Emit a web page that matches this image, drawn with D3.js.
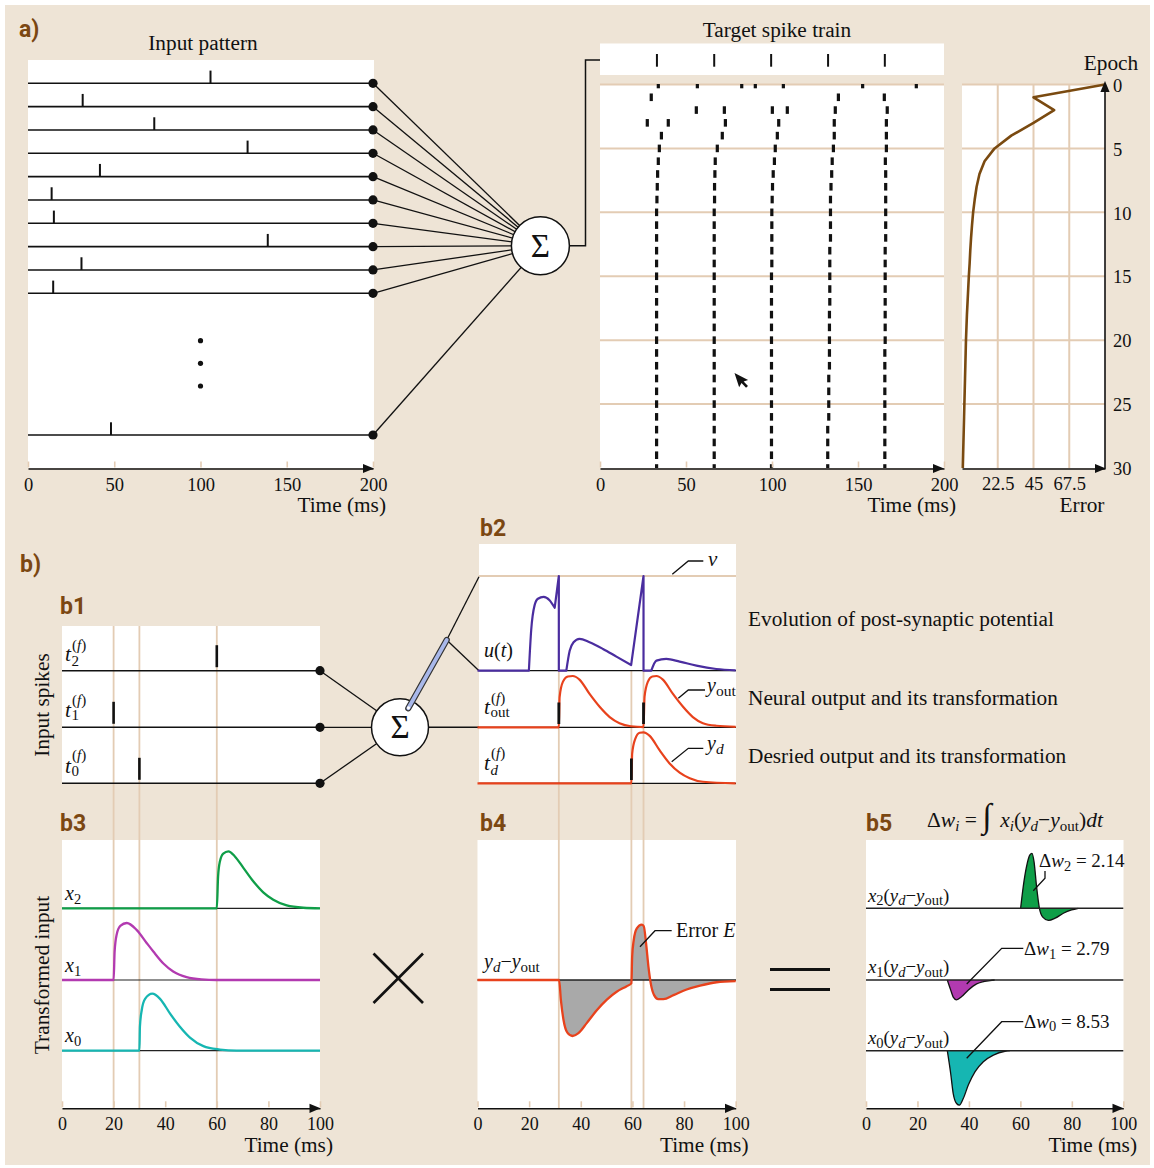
<!DOCTYPE html>
<html><head><meta charset="utf-8">
<script src="https://cdn.jsdelivr.net/npm/d3@7"></script>
<style>
body{margin:0;background:#fff}
svg{display:block}
text{font-family:"Liberation Serif","DejaVu Serif",serif;fill:#111}
</style>
</head><body>
<svg id="c" width="1154" height="1168"></svg>
<script>
// ---------------- DATA ----------------
const timeTicksA = [0, 50, 100, 150, 200];
const inputSpikeTimes = [105.8, 31.7, 73.2, 127.3, 41.7, 13.7, 15.0, 139.0, 31.0, 14.6];
const lastInputSpike = 48.1;
const targetSpikes = [33.1, 66.4, 99.5, 132.6, 165.6];
const epochTicks = [0, 5, 10, 15, 20, 25, 30];
const errorTicks = [22.5, 45, 67.5];
const rasterSpikes = [
  [33.9, 56.6, 82.4, 90.3, 106.6, 152.7, 183.9],
  [29.8, 138.6, 165.3],
  [56.0, 72.3, 100.2, 108.9, 136.8, 167.0],
  [27.5, 39.7, 72.9, 103.9, 136.2, 166.5],
  [35.7, 71.1, 103.1, 136.2, 166.5],
  [34.5, 68.2, 101.9, 135.7, 166.5],
  [33.9, 67.0, 101.4, 135.0, 165.9],
  [33.5, 66.8, 100.7, 134.7, 166.1],
  [33.3, 66.6, 100.3, 134.3, 166.1],
  [33.1, 66.6, 100.1, 134.0, 166.1],
  [32.9, 66.4, 99.9, 134.0, 166.1],
  [32.9, 66.4, 99.9, 134.0, 166.1],
  [32.9, 66.4, 99.9, 134.0, 166.1],
  [32.9, 66.4, 99.9, 133.6, 165.8],
  [32.9, 66.4, 99.9, 133.6, 165.8],
  [32.9, 66.4, 99.7, 133.6, 165.8],
  [32.9, 66.4, 99.7, 133.6, 165.8],
  [32.9, 66.4, 99.7, 133.6, 165.8],
  [32.9, 66.4, 99.7, 133.4, 165.8],
  [32.9, 66.4, 99.7, 133.4, 165.8],
  [32.9, 66.4, 99.7, 133.4, 165.8],
  [32.9, 66.4, 99.7, 133.4, 165.6],
  [32.9, 66.4, 99.7, 133.4, 165.6],
  [32.9, 66.4, 99.7, 133.0, 165.6],
  [32.9, 66.4, 99.7, 133.0, 165.6],
  [32.9, 66.4, 99.7, 133.0, 165.6],
  [32.9, 66.4, 99.7, 133.0, 165.6],
  [32.9, 66.4, 99.7, 132.4, 165.6],
  [32.9, 66.4, 99.7, 132.4, 165.6],
  [32.9, 66.4, 99.7, 132.4, 165.6],
  [32.9, 66.4, 99.7, 132.4, 165.6]
];
const errorValues = [90, 45, 58, 45, 31, 20.5, 14.2, 11, 9.2, 8, 7, 6.3, 5.7, 5.2, 4.8, 4.3, 3.9, 3.5, 3.1, 2.8, 2.5, 2.3, 2.1, 1.9, 1.7, 1.5, 1.3, 1.1, 0.9, 0.7, 0.5];

const timeTicksB = [0, 20, 40, 60, 80, 100];
const b1Spikes = [30, 20, 60];          // row 0 (t0), row 1 (t1), row 2 (t2)
const outSpikes = [31.5, 64.3];
const desiredSpikes = [59.6];
const uSegments = [
  [[0, 0], [19.9, 0]],
  [[19.9, 0], [20.8, 0.43], [22.1, 0.69], [23.4, 0.76], [25.6, 0.78], [27.9, 0.745], [29.9, 0.665]],
  [[29.9, 0.665], [31.5, 1.0]],
  [[31.5, 0], [34.4, 0]],
  [[34.4, 0], [35.7, 0.21], [37.2, 0.30], [39.5, 0.337], [43.4, 0.30], [48.6, 0.23], [53.8, 0.149], [59.5, 0.06]],
  [[59.5, 0.06], [64.3, 1.0]],
  [[64.3, 0], [67.3, 0]],
  [[67.3, 0], [69.3, 0.106], [73.1, 0.124], [78.3, 0.096], [84.8, 0.053], [92.5, 0.018], [100, 0.004]]
];
const yOutCurve = [[0, 0], [31.5, 0], [31.8, 0.59], [33.1, 0.89], [35, 0.99], [36.9, 1.0], [39.5, 0.93], [43.4, 0.65], [47.3, 0.40], [51.2, 0.20], [55, 0.08], [59.4, 0.02], [64.3, 0.005], [64.7, 0.6], [66, 0.89], [67.7, 0.99], [69.3, 1.0], [71.8, 0.93], [75.7, 0.65], [79.6, 0.40], [83.4, 0.20], [87.3, 0.08], [92.5, 0.03], [100, 0.01]];
const yDCurve = [[0, 0], [59.6, 0], [59.9, 0.58], [61.1, 0.87], [62.8, 0.99], [64.3, 1.0], [66.7, 0.93], [70.5, 0.65], [74.4, 0.39], [78.3, 0.21], [82.2, 0.10], [87.3, 0.03], [100, 0]];
const x2Curve = [[0, 0], [60, 0], [60.5, 0.56], [61.2, 0.82], [62.5, 0.96], [64.5, 1.0], [67, 0.91], [70.3, 0.71], [74.2, 0.47], [78, 0.28], [81.9, 0.15], [87.1, 0.05], [93.5, 0.01], [100, 0]];
const x1Curve = [[0, 0], [20, 0], [20.4, 0.5], [21.2, 0.8], [22.6, 0.95], [25.1, 1.0], [28.9, 0.88], [32.8, 0.65], [35.4, 0.50], [39.3, 0.29], [43.1, 0.15], [48.3, 0.05], [54, 0.01], [60, 0], [100, 0]];
const x0Curve = [[0, 0], [30, 0], [30.2, 0.42], [30.9, 0.71], [32.2, 0.91], [35, 1.0], [38, 0.91], [41.9, 0.65], [45.7, 0.42], [49.6, 0.23], [54.8, 0.08], [61.2, 0.02], [67.7, 0], [100, 0]];
const errCurve = [[0, 0], [31.6, 0], [32.3, -0.36], [33.3, -0.71], [34.8, -0.94], [36.8, -1.0], [39.1, -0.95], [42.3, -0.77], [46.2, -0.54], [50.1, -0.35], [53.9, -0.21], [57.8, -0.11], [59.6, -0.06], [59.9, 0.42], [60.5, 0.71], [61.7, 0.92], [63.6, 0.99], [64.4, 0.96], [65.3, 0.65], [66.2, 0.24], [67.1, -0.06], [68.4, -0.27], [70, -0.34], [72, -0.34], [75.9, -0.27], [81, -0.17], [86.2, -0.1], [92.6, -0.04], [100, -0.02]];
const prod2Curve = [[60.1, 0], [61.1, 0.39], [62.4, 0.76], [63.7, 0.97], [64.5, 1.0], [65.3, 0.85], [66.3, 0.39], [67.4, 0], [68.7, -0.16], [70.9, -0.22], [73.5, -0.18], [76.7, -0.09], [79.9, -0.03], [82.5, 0]];
const prod1Curve = [[31.6, 0], [32.9, -0.18], [33.9, -0.31], [35.2, -0.36], [37.2, -0.30], [39.8, -0.18], [43, -0.07], [48.2, -0.01], [50, 0]];
const prod0Curve = [[31.6, 0], [32.9, -0.41], [33.9, -0.78], [35.2, -0.96], [36.3, -0.99], [37.8, -0.87], [39.8, -0.62], [42.4, -0.38], [45.6, -0.2], [49.5, -0.08], [54, -0.01], [56, 0]];
const deltaW = ["2.14", "2.79", "8.53"];

// ---------------- STYLE ----------------
const BG = "#EEE4D6", TAN = "#E3CCB4", BROWN = "#7B4712";
const PURPLE = "#4A2D9F", RED = "#E8421C", GREEN = "#0F9E48", MAGENTA = "#B23AB0", TEAL = "#16B6B2", GRAY = "#A9A9A9";
const FS_TXT = 21.3, FS_TICK = 18.5;
const svg = d3.select("#c");
svg.append("rect").attr("x", 5).attr("y", 5).attr("width", 1145).attr("height", 1160).attr("fill", BG);

function line(g, x1, y1, x2, y2, stroke = "#111", w = 1.4) {
  return g.append("line").attr("x1", x1).attr("y1", y1).attr("x2", x2).attr("y2", y2).attr("stroke", stroke).attr("stroke-width", w);
}
function poly(g, pts, stroke = "#111", w = 1.3) {
  return g.append("polyline").attr("points", pts.map(p => p.join(",")).join(" ")).attr("fill", "none").attr("stroke", stroke).attr("stroke-width", w);
}
function arrow(g, x, y, dir) {
  const L = 11, h = 4.6;
  let pts;
  if (dir === "right") pts = [[x, y], [x - L, y - h], [x - L, y + h]];
  else pts = [[x, y], [x - h, y + L], [x + h, y + L]];
  g.append("polygon").attr("points", pts.map(p => p.join(",")).join(" ")).attr("fill", "#111");
}
function label(g, x, y, txt, size, anchor = "start", extra = {}) {
  const t = g.append("text").attr("x", x).attr("y", y).attr("font-size", size).attr("text-anchor", anchor).text(txt);
  for (const k in extra) t.attr(k, extra[k]);
  return t;
}
function panelLabel(x, y, txt) {
  svg.append("text").attr("x", x).attr("y", y).text(txt)
    .style("font-family", "Roboto, 'Noto Sans', sans-serif").style("font-weight", "700")
    .style("font-size", "23px").style("fill", BROWN);
}
// math text: parts [string, kind, size] kind: r roman, i italic, s roman sub, is italic sub
function mtext(g, x, y, parts, size, anchor = "start") {
  const t = g.append("text").attr("x", x).attr("y", y).attr("font-size", size).attr("text-anchor", anchor);
  let shift = 0;
  parts.forEach(([s, kind, fsz]) => {
    const sub = kind.includes("s");
    const target = sub ? size * 0.2 : 0;
    t.append("tspan").text(s)
      .attr("dy", (target - shift).toFixed(2))
      .attr("font-size", fsz || (sub ? size * 0.72 : size))
      .attr("font-style", kind.includes("i") ? "italic" : "normal");
    shift = target;
  });
  return t;
}
function tLabel(g, x, y, sub, subItalic, subDy, supDy) {
  label(g, x, y, "t", 21.5, "start", { "font-style": "italic" });
  label(g, x + 6.5, y + subDy, sub, 15, "start", { "font-style": subItalic ? "italic" : "normal" });
  mtext(g, x + 7, y + supDy, [["(", "r"], ["f", "i"], [")", "r"]], 15);
}
function styleAxisText(g, y) {
  g.attr("font-family", null).attr("font-size", null);
  g.selectAll(".tick text").attr("y", y).attr("dy", 0).attr("font-size", FS_TICK)
    .style("font-family", "'Liberation Serif', serif").attr("fill", "#111");
}
function bottomAxis(scale, y, ticks, fsz, endX) {
  const g = svg.append("g").attr("transform", `translate(0,${y})`)
    .call(d3.axisBottom(scale).tickValues(ticks).tickSize(-7).tickSizeOuter(0).tickFormat(d => String(d)));
  g.select(".domain").attr("stroke", "#111").attr("stroke-width", 1.6);
  g.selectAll(".tick line").attr("stroke", TAN).attr("stroke-width", 1.6).attr("y1", -1);
  styleAxisText(g, 22);
  g.selectAll(".tick text").attr("font-size", fsz);
  arrow(svg, endX, y, "right");
  return g;
}

// ---------------- PANEL a: input pattern ----------------
panelLabel(19, 37, "a)");
const gA = svg.append("g");
const xA = d3.scaleLinear().domain([0, 200]).range([28, 373]);
const rowY = d3.scaleLinear().domain([0, 9]).range([83.3, 293.3]);
const lastRowY = 435;
const sigA = { x: 540.4, y: 245.7, r: 29 };
gA.append("rect").attr("x", 28).attr("y", 60).attr("width", 346).attr("height", 408).attr("fill", "#fff");
label(gA, 203, 50, "Input pattern", FS_TXT, "middle");
const rowsA = inputSpikeTimes.map((t, i) => ({ t, y: rowY(i) })).concat([{ t: lastInputSpike, y: lastRowY }]);
rowsA.forEach(r => {
  line(gA, xA(0), r.y, xA(200), r.y, "#111", 1.6);
  line(gA, xA(r.t), r.y - 12.7, xA(r.t), r.y, "#111", 2);
  line(gA, xA(200), r.y, sigA.x, sigA.y, "#111", 1.3);
});
rowsA.forEach(r => gA.append("circle").attr("cx", xA(200)).attr("cy", r.y).attr("r", 4.6).attr("fill", "#111"));
[340.7, 363.3, 386].forEach(y => gA.append("circle").attr("cx", xA(100)).attr("cy", y).attr("r", 2.6).attr("fill", "#111"));
bottomAxis(xA, 468.5, timeTicksA, FS_TICK, 374);
label(gA, 386, 512, "Time (ms)", FS_TXT, "end");
poly(gA, [[sigA.x + sigA.r, sigA.y], [585.5, sigA.y], [585.5, 60], [600, 60]], "#111", 1.5);
gA.append("circle").attr("cx", sigA.x).attr("cy", sigA.y).attr("r", sigA.r).attr("fill", "#fff").attr("stroke", "#111").attr("stroke-width", 1.5);
label(gA, sigA.x, sigA.y + 11, "Σ", 33, "middle");

// ---------------- PANEL a: raster ----------------
const gR = svg.append("g");
const xR = d3.scaleLinear().domain([0, 200]).range([600, 944]);
const yEp = d3.scaleLinear().domain([0, 30]).range([84.5, 468]);
const xE = d3.scaleLinear().domain([0, 90]).range([962, 1105]);
label(gR, 777, 37, "Target spike train", FS_TXT, "middle");
gR.append("rect").attr("x", 600).attr("y", 43.5).attr("width", 344).attr("height", 31.5).attr("fill", "#fff");
targetSpikes.forEach(t => line(gR, xR(t), 54, xR(t), 66.7, "#111", 2));
gR.append("rect").attr("x", 600).attr("y", 84).attr("width", 344).attr("height", 384).attr("fill", "#fff");
gR.append("rect").attr("x", 962).attr("y", 84).attr("width", 143).attr("height", 384).attr("fill", "#fff");
epochTicks.forEach(e => {
  if (e === 30) return;
  line(gR, 600, yEp(e), 944, yEp(e), TAN, 2);
  line(gR, 962, yEp(e), 1105, yEp(e), TAN, 2);
});
errorTicks.forEach(v => line(gR, xE(v), 84, xE(v), 468, TAN, 2));
svg.append("clipPath").attr("id", "rclip").append("rect").attr("x", 600).attr("y", 84).attr("width", 344).attr("height", 384);
const gMarks = gR.append("g").attr("clip-path", "url(#rclip)");
rasterSpikes.forEach((arr, e) => arr.forEach(t => {
  gMarks.append("rect").attr("x", xR(t) - 1.6).attr("y", yEp(e) - 3.8).attr("width", 3.2).attr("height", 7.6).attr("fill", "#111");
}));
gR.append("path").attr("d", "M0,0 L0,15 L3.6,11.6 L6.4,17.6 L8.8,16.6 L6.1,10.8 L10.8,10.8 Z")
  .attr("transform", "translate(734.5,373) rotate(-18)").attr("fill", "#111");
bottomAxis(xR, 468.5, timeTicksA, FS_TICK, 944);
label(gR, 956, 512, "Time (ms)", FS_TXT, "end");
const errLine = d3.line().x(d => xE(d)).y((d, i) => yEp(i));
gR.append("path").attr("d", errLine(errorValues)).attr("fill", "none").attr("stroke", "#7A4A10").attr("stroke-width", 2.6).attr("stroke-linejoin", "round");
const gEx = svg.append("g").attr("transform", "translate(0,468.5)")
  .call(d3.axisBottom(xE).tickValues(errorTicks).tickSize(0).tickSizeOuter(0).tickFormat(d => String(d)));
gEx.select(".domain").attr("stroke", "#111").attr("stroke-width", 1.6);
styleAxisText(gEx, 21.5);
arrow(svg, 1106, 468.5, "right");
const gEy = svg.append("g").attr("transform", "translate(1105,0)")
  .call(d3.axisRight(yEp).tickValues(epochTicks).tickSize(0).tickSizeOuter(0).tickPadding(8).tickFormat(d => String(d)));
gEy.select(".domain").attr("stroke", "#111").attr("stroke-width", 1.6).attr("d", "M0,468.5V84");
gEy.attr("font-family", null).attr("font-size", null);
gEy.selectAll(".tick text").attr("font-size", FS_TICK).attr("dy", "0.36em").style("font-family", "'Liberation Serif', serif").attr("fill", "#111");
arrow(svg, 1105, 81, "up");
label(gR, 1111, 70, "Epoch", FS_TXT, "middle");
label(gR, 1082, 512, "Error", FS_TXT, "middle");

// ---------------- PANEL b ----------------
panelLabel(20, 572, "b)");
panelLabel(60, 614, "b1");
panelLabel(480, 536, "b2");
panelLabel(60, 831, "b3");
panelLabel(480, 831, "b4");
panelLabel(866, 831, "b5");
const gB = svg.append("g");
const xB3 = d3.scaleLinear().domain([0, 100]).range([62, 320]);
const xB4 = d3.scaleLinear().domain([0, 100]).range([477.5, 735.7]);
const xB5 = d3.scaleLinear().domain([0, 100]).range([866, 1123.3]);
gB.append("rect").attr("x", 62).attr("y", 626).attr("width", 258).attr("height", 157.5).attr("fill", "#fff");
gB.append("rect").attr("x", 479).attr("y", 544).attr("width", 257).attr("height", 240).attr("fill", "#fff");
gB.append("rect").attr("x", 62).attr("y", 840).attr("width", 258).attr("height", 268).attr("fill", "#fff");
gB.append("rect").attr("x", 477.5).attr("y", 840).attr("width", 258.5).attr("height", 268).attr("fill", "#fff");
gB.append("rect").attr("x", 866).attr("y", 840).attr("width", 257.5).attr("height", 268).attr("fill", "#fff");
b1Spikes.forEach(t => line(gB, xB3(t), 626, xB3(t), 1108, TAN, 1.8));
outSpikes.concat(desiredSpikes).forEach(t => line(gB, xB4(t), 670, xB4(t), 1108, TAN, 1.8));

// b1
const b1Rows = [783.3, 727.3, 670.7];
const sigB = { x: 400, y: 727.3, r: 28.5 };
b1Rows.forEach((y, i) => {
  line(gB, 62, y, 320, y, "#111", 1.6);
  line(gB, xB3(b1Spikes[i]), y - 25.5, xB3(b1Spikes[i]), y - 3.5, "#111", 2.6);
  line(gB, 320, y, sigB.x, sigB.y, "#111", 1.3);
  gB.append("circle").attr("cx", 320).attr("cy", y).attr("r", 4.6).attr("fill", "#111");
});
tLabel(gB, 65, 661, "2", false, 4.5, -11);
tLabel(gB, 65, 716.5, "1", false, 3, -11.5);
tLabel(gB, 65, 772.5, "0", false, 3, -12.5);
label(gB, 49, 705, "Input spikes", FS_TXT, "middle", { transform: "rotate(-90,49,705)" });
line(gB, sigB.x + sigB.r, sigB.y, 479, sigB.y, "#111", 1.4);
line(gB, 446.7, 640, 479, 576.7, "#111", 1.3);
line(gB, 446.7, 640, 479, 670.7, "#111", 1.3);
gB.append("circle").attr("cx", sigB.x).attr("cy", sigB.y).attr("r", sigB.r).attr("fill", "#fff").attr("stroke", "#111").attr("stroke-width", 1.5);
label(gB, sigB.x, sigB.y + 11, "Σ", 33, "middle");
line(gB, 408.3, 708.3, 446.7, 640, "#333", 6.2).attr("stroke-linecap", "round");
line(gB, 408.3, 708.3, 446.7, 640, "#A9B8EA", 3.8).attr("stroke-linecap", "round");
gB.append("circle").attr("cx", 408.5).attr("cy", 707.8).attr("r", 1.6).attr("fill", "#fff");

// b2
const yU = d3.scaleLinear().domain([0, 1]).range([670.7, 576]);
const yO = d3.scaleLinear().domain([0, 1]).range([727.3, 676]);
const yDs = d3.scaleLinear().domain([0, 1]).range([783.3, 732.3]);
line(gB, 479, 576, 736, 576, TAN, 2);
[670.7, 727.3, 783.3].forEach(y => line(gB, 479, y, 736, y, "#111", 1.3));
const mono = (xs, ys) => d3.line().x(d => xs(d[0])).y(d => ys(d[1])).curve(d3.curveMonotoneX);
const uLine = mono(xB4, yU);
const uPath = uSegments.map((s, i) => { const p = uLine(s); return i ? "L" + p.slice(1) : p; }).join("");
gB.append("path").attr("d", uPath).attr("fill", "none").attr("stroke", PURPLE).attr("stroke-width", 2.2).attr("stroke-linejoin", "round");
gB.append("path").attr("d", mono(xB4, yO)(yOutCurve)).attr("fill", "none").attr("stroke", RED).attr("stroke-width", 2.2);
gB.append("path").attr("d", mono(xB4, yDs)(yDCurve)).attr("fill", "none").attr("stroke", RED).attr("stroke-width", 2.2);
outSpikes.forEach(t => line(gB, xB4(t), 702.5, xB4(t), 724, "#111", 2.8));
desiredSpikes.forEach(t => line(gB, xB4(t), 758.5, xB4(t), 780, "#111", 2.8));
mtext(gB, 484, 657, [["u", "i"], ["(", "r"], ["t", "i"], [")", "r"]], 20);
tLabel(gB, 484, 714, "out", false, 3, -11);
tLabel(gB, 484, 770, "d", true, 4.5, -12);
poly(gB, [[672.3, 574.3], [688.3, 561], [703.3, 561]]);
label(gB, 708, 566, "v", 21, "start", { "font-style": "italic" });
poly(gB, [[678.3, 698.3], [688.3, 690], [705, 690]]);
mtext(gB, 707, 692, [["y", "i"], ["out", "s", 15.5]], 20);
poly(gB, [[671.7, 761.7], [688.3, 748.3], [703.3, 748.3]]);
mtext(gB, 707, 750, [["y", "i"], ["d", "is", 15.5]], 20);
label(gB, 748, 626, "Evolution of post-synaptic potential", FS_TXT);
label(gB, 748, 705, "Neural output and its transformation", FS_TXT);
label(gB, 748, 763, "Desried output and its transformation", FS_TXT);

// b3
const b3Rows = [
  { base: 908.3, data: x2Curve, color: GREEN, sub: "2" },
  { base: 980, data: x1Curve, color: MAGENTA, sub: "1" },
  { base: 1050.7, data: x0Curve, color: TEAL, sub: "0" }
];
b3Rows.forEach(r => {
  const ys = d3.scaleLinear().domain([0, 1]).range([r.base, r.base - 57]);
  line(gB, 62, r.base, 320, r.base, "#222", 1.2);
  gB.append("path").attr("d", mono(xB3, ys)(r.data)).attr("fill", "none").attr("stroke", r.color).attr("stroke-width", 2.3);
  mtext(gB, 65, r.base - 8.5, [["x", "i"], [r.sub, "s", 14.5]], 20);
});
label(gB, 49, 975, "Transformed input", FS_TXT, "middle", { transform: "rotate(-90,49,975)" });
bottomAxis(xB3, 1108.3, timeTicksB, 18, 320.5);
label(gB, 333, 1152, "Time (ms)", FS_TXT, "end");
line(gB, 373.5, 953.5, 423, 1003, "#111", 2.6);
line(gB, 423, 953.5, 373.5, 1003, "#111", 2.6);

// b4
const yE4 = d3.scaleLinear().domain([-1, 1]).range([1036, 924]);
gB.append("path").attr("d", d3.area().x(d => xB4(d[0])).y0(yE4(0)).y1(d => yE4(d[1])).curve(d3.curveMonotoneX)(errCurve)).attr("fill", GRAY);
line(gB, 477.5, 980, 736, 980, "#222", 1.3);
gB.append("path").attr("d", mono(xB4, yE4)(errCurve)).attr("fill", "none").attr("stroke", RED).attr("stroke-width", 2.3);
mtext(gB, 484, 968, [["y", "i"], ["d", "is", 15], ["−", "r"], ["y", "i"], ["out", "s", 15]], 20);
poly(gB, [[640, 946.7], [655, 930.7], [671.7, 930.7]]);
mtext(gB, 676, 937, [["Error ", "r"], ["E", "i"]], 20);
bottomAxis(xB4, 1108.3, timeTicksB, 18, 736);
label(gB, 748.5, 1152, "Time (ms)", FS_TXT, "end");
line(gB, 770, 969.5, 830, 969.5, "#111", 3);
line(gB, 770, 989.5, 830, 989.5, "#111", 3);

// b5
const b5Rows = [
  { base: 908.3, data: prod2Curve, color: GREEN, sub: "2" },
  { base: 980, data: prod1Curve, color: MAGENTA, sub: "1" },
  { base: 1050.7, data: prod0Curve, color: TEAL, sub: "0" }
];
b5Rows.forEach(r => {
  const ys = d3.scaleLinear().domain([0, 1]).range([r.base, r.base - 55]);
  const ar = d3.area().x(d => xB5(d[0])).y0(r.base).y1(d => ys(d[1])).curve(d3.curveMonotoneX);
  gB.append("path").attr("d", ar(r.data)).attr("fill", r.color);
  gB.append("path").attr("d", mono(xB5, ys)(r.data)).attr("fill", "none").attr("stroke", "#111").attr("stroke-width", 1.3);
  line(gB, 866, r.base, 1123.3, r.base, "#222", 1.5);
  mtext(gB, 868, r.base - 6.6, [["x", "i"], [r.sub, "s", 14.5], ["(", "r"], ["y", "i"], ["d", "is", 14.5], ["−", "r"], ["y", "i"], ["out", "s", 14.5], [")", "r"]], 18.8);
});
poly(gB, [[1033.3, 890.7], [1045, 878.3], [1045, 871]]);
mtext(gB, 1039, 867, [["Δ", "r"], ["w", "i"], ["2", "s", 14.5], [" = " + deltaW[0], "r"]], 19);
poly(gB, [[966.7, 984], [1001.7, 948.3], [1023.3, 948.3]]);
mtext(gB, 1024, 955, [["Δ", "r"], ["w", "i"], ["1", "s", 14.5], [" = " + deltaW[1], "r"]], 19);
poly(gB, [[966.7, 1058.3], [1001.7, 1021.7], [1023.3, 1021.7]]);
mtext(gB, 1024, 1027.5, [["Δ", "r"], ["w", "i"], ["0", "s", 14.5], [" = " + deltaW[2], "r"]], 19);
mtext(gB, 927, 827, [["Δ", "r"], ["w", "i"], ["i", "is", 15], [" = ", "r"], ["∫", "r", 34], ["\u2009\u2009x", "i"], ["i", "is", 15], ["(", "r"], ["y", "i"], ["d", "is", 15], ["−", "r"], ["y", "i"], ["out", "s", 15], [")", "r"], ["dt", "i"]], 21.5);
bottomAxis(xB5, 1108.3, timeTicksB, 18, 1123.5);
label(gB, 1137, 1152, "Time (ms)", FS_TXT, "end");
</script>
</body></html>
